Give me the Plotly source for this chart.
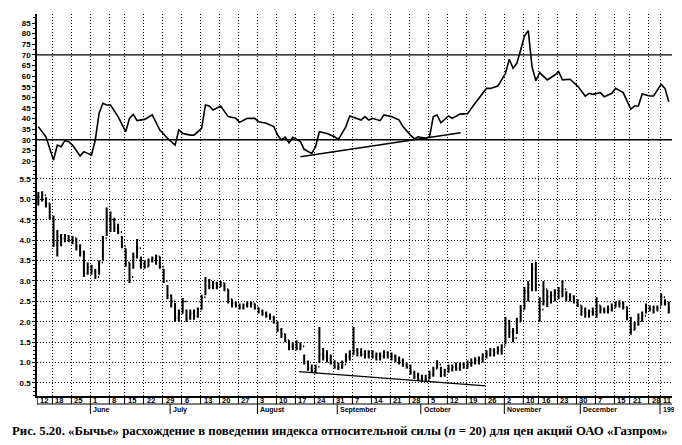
import plotly.graph_objects as go

# ---------------- data ----------------
week_start = [0, 4, 9, 14, 19, 23, 28, 33, 38, 43, 48, 53, 58, 63, 68, 73, 78, 83, 88, 93,
              98, 103, 108, 113, 118, 123, 128, 132, 137, 142, 147, 152, 156, 161, 164]
week_label = ["12", "18", "25", "1", "8", "15", "22", "29", "6", "13", "20", "27", "3", "10",
              "17", "24", "31", "7", "14", "21", "28", "5", "12", "19", "26", "2", "10", "16",
              "23", "30", "7", "15", "21", "28", "11"]
month_start = [14, 35, 58, 79, 101, 123, 143, 164]
month_label = ["June", "July", "August", "September", "October", "November", "December", "1999"]

high = [5.18, 5.2, 5.05, 4.9,
        4.6, 4.25, 4.15, 4.15, 4.12,
        4.1, 4.05, 3.9, 3.75, 3.45,
        3.4, 3.3, 3.5, 4.1, 4.8,
        4.7, 4.55, 4.4, 4.1,
        3.8, 3.45, 3.7, 4.03, 3.6,
        3.5, 3.55, 3.6, 3.65, 3.6,
        3.3, 2.9, 2.66, 2.46, 2.3,
        2.58, 2.3, 2.3, 2.3, 2.35,
        2.66, 3.1, 3.05, 3.0, 2.98,
        3.0, 2.95, 2.8, 2.55, 2.5,
        2.45, 2.45, 2.5, 2.5, 2.45,
        2.35, 2.3, 2.25, 2.2, 2.15,
        2.0, 1.85, 1.7, 1.55, 1.5,
        1.55, 1.5, 1.2, 1.05, 0.95,
        0.95, 1.87, 1.36, 1.3, 1.2,
        1.06, 1.0, 1.05, 1.23, 1.3,
        1.87, 1.36, 1.35, 1.3, 1.3,
        1.3, 1.25, 1.25, 1.3, 1.28,
        1.25, 1.2, 1.15, 1.1, 1.0,
        0.95, 0.8, 0.75, 0.7, 0.7,
        0.8, 0.9, 1.06, 0.9, 0.85,
        0.95, 0.95, 1.0, 1.0, 1.01,
        1.05, 1.1, 1.13, 1.15, 1.23,
        1.3, 1.36, 1.35, 1.4, 1.45,
        2.12, 2.05, 1.85, 2.1, 2.41,
        2.85, 3.0, 3.44, 3.47,
        2.6, 3.0, 2.78, 2.75, 2.8,
        2.85, 3.02, 2.75, 2.7, 2.65,
        2.55, 2.4, 2.35, 2.3, 2.35,
        2.6, 2.4, 2.35, 2.4, 2.45,
        2.5, 2.53, 2.5, 2.38,
        2.12, 2.0, 2.2, 2.25, 2.45,
        2.4, 2.4, 2.4,
        2.7, 2.55, 2.5]

low = [4.85, 4.95, 4.8, 4.5,
       3.83, 3.6, 3.85, 3.95, 3.95,
       3.9, 3.75, 3.6, 3.1, 3.15,
       3.15, 3.05, 3.15, 3.5, 4.1,
       4.2, 4.2, 4.15, 3.8,
       3.35, 2.95, 3.3, 3.55, 3.3,
       3.3, 3.35, 3.45, 3.4, 3.3,
       2.95, 2.55, 2.35, 2.0, 2.0,
       2.2, 2.0, 2.05, 2.05, 2.1,
       2.3, 2.65, 2.8, 2.8, 2.8,
       2.85, 2.75, 2.45, 2.35, 2.35,
       2.3, 2.3, 2.35, 2.35, 2.3,
       2.2, 2.15, 2.1, 2.05, 1.95,
       1.75, 1.6, 1.5, 1.3, 1.3,
       1.3, 1.3, 0.95, 0.8, 0.77,
       0.74, 0.99, 1.05, 1.0, 0.95,
       0.85, 0.82, 0.85, 1.0, 1.05,
       1.19, 1.15, 1.15, 1.1, 1.1,
       1.1, 1.05, 1.05, 1.1, 1.1,
       1.05, 1.0, 0.95, 0.9, 0.85,
       0.7, 0.6, 0.55, 0.52, 0.52,
       0.6, 0.65, 0.85, 0.64, 0.65,
       0.75, 0.78, 0.8, 0.8, 0.85,
       0.85, 0.9, 0.95, 0.95, 1.0,
       1.1, 1.15, 1.15, 1.2, 1.19,
       1.45, 1.6, 1.5, 1.7, 2.0,
       2.3, 2.5, 2.75, 2.75,
       2.0, 2.4, 2.36, 2.45, 2.5,
       2.55, 2.6, 2.5, 2.5, 2.45,
       2.36, 2.15, 2.1, 2.1, 2.15,
       2.1, 2.2, 2.2, 2.2, 2.25,
       2.35, 2.35, 2.3, 2.04,
       1.68, 1.8, 1.9, 2.0, 2.2,
       2.25, 2.2, 2.25,
       2.4, 2.4, 2.2]

close = [5.05, 5.1, 4.9, 4.55,
         3.9, 4.1, 4.05, 4.1, 4.0,
         4.05, 3.85, 3.7, 3.2, 3.35,
         3.25, 3.1, 3.45, 4.05, 4.55,
         4.5, 4.3, 4.2, 3.85,
         3.45, 3.1, 3.6, 3.8, 3.4,
         3.35, 3.5, 3.55, 3.6, 3.35,
         3.0, 2.65, 2.5, 2.1, 2.2,
         2.5, 2.1, 2.2, 2.15, 2.3,
         2.6, 3.0, 2.85, 2.95, 2.85,
         2.95, 2.8, 2.55, 2.45, 2.4,
         2.35, 2.4, 2.45, 2.45, 2.35,
         2.25, 2.2, 2.15, 2.1, 2.0,
         1.8, 1.7, 1.55, 1.4, 1.4,
         1.35, 1.4, 1.0, 0.85, 0.8,
         0.9, 1.2, 1.15, 1.1, 1.0,
         0.9, 0.88, 0.95, 1.15, 1.2,
         1.3, 1.25, 1.2, 1.2, 1.25,
         1.15, 1.2, 1.15, 1.25, 1.2,
         1.15, 1.1, 1.05, 0.95, 0.9,
         0.75, 0.65, 0.6, 0.6, 0.58,
         0.7, 0.85, 0.95, 0.7, 0.8,
         0.85, 0.9, 0.85, 0.95, 0.9,
         0.95, 1.0, 1.05, 1.1, 1.15,
         1.2, 1.3, 1.25, 1.3, 1.4,
         1.95, 1.75, 1.6, 2.0, 2.3,
         2.75, 2.9, 3.3, 2.9,
         2.3, 2.8, 2.6, 2.65, 2.7,
         2.75, 2.8, 2.6, 2.6, 2.5,
         2.4, 2.25, 2.2, 2.25, 2.2,
         2.4, 2.3, 2.25, 2.3, 2.35,
         2.45, 2.45, 2.35, 2.1,
         1.8, 1.95, 2.1, 2.15, 2.35,
         2.3, 2.35, 2.35,
         2.6, 2.45, 2.3]

rsi_day = [0, 1, 2, 4, 5, 6, 7, 8, 9, 11,
           12, 13, 14, 15, 16, 17, 18, 19, 21, 23,
           24, 25, 26, 28, 30, 32, 34, 36, 37, 38,
           40, 41, 43, 44, 45, 46, 48, 50, 52, 53,
           55, 57, 58, 60, 62, 63, 64, 65, 66, 67,
           69, 70, 72, 73, 74, 76, 78, 79, 81, 82,
           84, 85, 86, 87, 88, 90, 91, 93, 95, 96,
           98, 99, 100, 102, 103, 104, 105, 106, 108, 109,
           111, 113, 115, 116, 118, 119, 121, 123, 124, 125,
           126, 127, 128, 129, 130, 131, 132, 134, 136, 137,
           138, 140, 142, 144, 145, 146, 148, 149, 151, 152,
           154, 156, 157, 158, 159, 161, 162, 164, 165, 166]
rsi_val = [36.2, 33.8, 31.4, 20.5, 27.5, 26.7, 29.6, 29.1, 27.5, 22.4,
           24.4, 23.6, 22.8, 29.9, 42.5, 47.2, 46.4, 46.4, 40.9, 33.8,
           40.1, 42.0, 39.0, 39.6, 41.7, 34.6, 30.7, 27.5, 34.6, 33.0,
           32.2, 32.2, 35.4, 46.4, 45.9, 44.0, 45.9, 40.9, 40.1, 38.2,
           40.1, 40.1, 38.5, 37.8, 36.2, 32.2, 29.9, 31.2, 28.6, 31.2,
           29.1, 25.5, 23.6, 26.7, 33.8, 33.0, 31.4, 30.2, 36.2, 41.2,
           40.1, 39.3, 40.9, 39.3, 40.1, 39.0, 41.7, 40.9, 39.3, 36.2,
           32.2, 30.4, 31.4, 30.7, 31.4, 40.9, 41.7, 38.0, 41.2, 40.1,
           42.1, 42.3, 47.2, 49.5, 54.2, 54.2, 55.3, 61.3, 67.9, 63.7,
           66.0, 72.3, 78.9, 81.4, 64.4, 57.8, 61.6, 58.2, 60.5, 62.1,
           58.2, 58.5, 55.3, 50.6, 51.9, 51.4, 52.2, 50.3, 51.9, 54.2,
           52.2, 44.4, 45.9, 45.9, 51.6, 50.6, 50.6, 56.1, 54.2, 47.9]

rsi_levels = [70, 30]
rsi_trend_day = [69.0, 111.2]
rsi_trend_val = [22.0, 33.3]
price_trend_day = [68.6, 117.8]
price_trend_val = [0.78, 0.43]

price_ticks = [0.5, 1.0, 1.5, 2.0, 2.5, 3.0, 3.5, 4.0, 4.5, 5.0, 5.5]
rsi_ticks = [20, 25, 30, 35, 40, 45, 50, 55, 60, 65, 70, 75, 80, 85]

caption = ("Рис. 5.20. «Бычье» расхождение в поведении индекса относительной силы "
           "(<i>n</i> = 20) для цен акций ОАО «Газпром»")

# ---------------- layout geometry ----------------
# the page body has an 8px margin, so the figure is drawn 8px smaller and offset
PAGE = 8
W, H = 682 - PAGE, 445 - PAGE
L, R, T, B = 37 - PAGE, 10, 14 - PAGE, 49
PH = H - T - B
OFF = 0.3  # grid line sits just before the week's first bar


def py(ypix):
    """page pixel y -> paper fraction"""
    return (H - B - (ypix - PAGE)) / PH


split = py(170)
TICKFONT = dict(family="Liberation Sans", size=8, color="black", weight="bold")

fig = go.Figure()
days = list(range(len(close)))
opens = [close[0]] + close[:-1]
fig.add_trace(go.Ohlc(
    x=days, open=opens, high=high, low=low, close=close,
    xaxis="x", yaxis="y", tickwidth=0.3, hoverinfo="skip", showlegend=False,
    increasing=dict(line=dict(color="black", width=2)),
    decreasing=dict(line=dict(color="black", width=2))))
fig.add_trace(go.Scatter(x=price_trend_day, y=price_trend_val, mode="lines",
                         line=dict(color="black", width=1.2), xaxis="x", yaxis="y",
                         showlegend=False, hoverinfo="skip"))
fig.add_trace(go.Scatter(x=rsi_day, y=rsi_val, mode="lines",
                         line=dict(color="black", width=1.6), xaxis="x", yaxis="y2",
                         showlegend=False, hoverinfo="skip"))
fig.add_trace(go.Scatter(x=rsi_trend_day, y=rsi_trend_val, mode="lines",
                         line=dict(color="black", width=1.3), xaxis="x", yaxis="y2",
                         showlegend=False, hoverinfo="skip"))

shapes = []
for lv in rsi_levels:
    shapes.append(dict(type="line", xref="paper", yref="y2", x0=0, x1=1, y0=lv, y1=lv,
                       line=dict(color="black", width=1.4)))
# date box rows
shapes.append(dict(type="line", xref="paper", yref="paper", x0=0, x1=1,
                   y0=py(404), y1=py(404), line=dict(color="black", width=1)))
for w in week_start:
    shapes.append(dict(type="line", xref="x", yref="paper", x0=w - OFF, x1=w - OFF,
                       y0=py(396), y1=py(404), line=dict(color="black", width=1)))
for m in month_start:
    shapes.append(dict(type="line", xref="x", yref="paper", x0=m - OFF, x1=m - OFF,
                       y0=py(404), y1=py(414), line=dict(color="black", width=1)))

annotations = []
for w, t in zip(week_start, week_label):
    annotations.append(dict(x=w - OFF, y=py(400.2), xref="x", yref="paper", text=t,
                            showarrow=False, xanchor="left", yanchor="middle", xshift=1,
                            font=dict(family="Liberation Sans", size=7.5, color="black",
                                      weight="bold")))
for m, t in zip(month_start, month_label):
    annotations.append(dict(x=m - OFF, y=py(409.5), xref="x", yref="paper", text=t,
                            showarrow=False, xanchor="left", yanchor="middle", xshift=1,
                            font=dict(family="Liberation Sans", size=7, color="black",
                                      weight="bold")))
annotations.append(dict(x=(340 - 37) / (W - L - R), y=py(431), xref="paper", yref="paper",
                        text=caption, showarrow=False, xanchor="center", yanchor="middle",
                        font=dict(family="Liberation Serif", size=12.8, color="black",
                                  weight="bold")))

fig.update_layout(
    template="none",
    width=W, height=H, margin=dict(l=L, r=R, t=T, b=B, pad=0, autoexpand=False),
    paper_bgcolor="white", plot_bgcolor="white", showlegend=False,
    xaxis=dict(domain=[0, 1], range=[-0.35, 166.85], anchor="y", automargin=False,
               tickmode="array", tickvals=[w - OFF for w in week_start],
               showticklabels=False, ticks="", showgrid=True, gridcolor="black",
               gridwidth=1.2, griddash="1px,2px", showline=True, linecolor="black",
               linewidth=1.5, zeroline=False, rangeslider=dict(visible=False)),
    yaxis=dict(domain=[0, split], range=[0.181, 5.72], anchor="x", automargin=False,
               tickmode="array", tickvals=price_ticks,
               ticktext=[f"{v:.1f}" for v in price_ticks], tickfont=TICKFONT,
               showgrid=True, gridcolor="black", gridwidth=1.2, griddash="1px,2px",
               showline=True, linecolor="black", linewidth=1.5, zeroline=False,
               ticks="outside", ticklen=3, tickcolor="black",
               minor=dict(ticks="outside", ticklen=2, tickmode="linear", tick0=0,
                          dtick=0.1, tickcolor="black", showgrid=False)),
    yaxis2=dict(domain=[split, 1], range=[15.76, 89.24], anchor="x", automargin=False,
                tickmode="array", tickvals=rsi_ticks,
                ticktext=[str(v) for v in rsi_ticks], tickfont=TICKFONT,
                showgrid=False, showline=True, linecolor="black", linewidth=1.5,
                zeroline=False, ticks="outside", ticklen=3, tickcolor="black",
                minor=dict(ticks="outside", ticklen=2, tickmode="linear", tick0=0,
                           dtick=2.5, tickcolor="black", showgrid=False)),
    shapes=shapes, annotations=annotations,
)

fig.write_html("out.html")
